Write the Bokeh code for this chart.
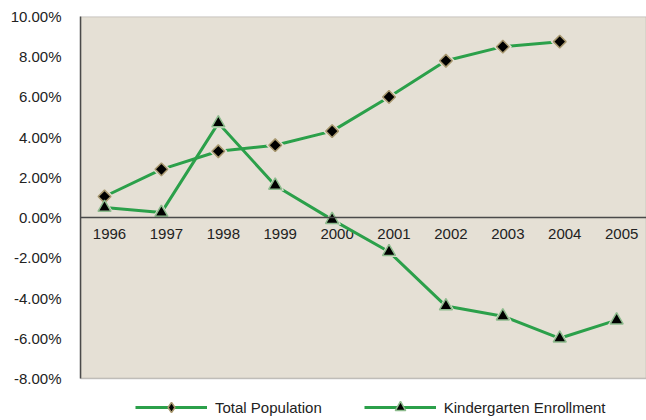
import math
from bokeh.plotting import figure
from bokeh.models import (Range1d, PrintfTickFormatter, FixedTicker, Legend,
                          LegendItem, ColumnDataSource, Span, BoxAnnotation)
from bokeh.core.properties import value
from bokeh.embed import file_html
from bokeh.resources import INLINE

years = [1996, 1997, 1998, 1999, 2000, 2001, 2002, 2003, 2004, 2005]
year_labels = [str(y) for y in years]
total_population = [1.05, 2.4, 3.3, 3.6, 4.3, 6.0, 7.8, 8.5, 8.75]
kindergarten = [0.5, 0.25, 4.7, 1.6, -0.1, -1.7, -4.4, -4.9, -6.0, -5.1]
y_ticks = [-8, -6, -4, -2, 0, 2, 4, 6, 8, 10]
Y_MIN, Y_MAX = -8, 10

BG = "#E5E0D5"
GREEN = "#2BA04A"
FRAME = "#4A4A4A"
TEXT = "#222222"
FONT = "Liberation Sans"
FS = "15px"

PLOT_H = 362      # pixel height of the shaded plot area
LEGEND_H = 42     # pixel room below it for the legend
y_low = Y_MIN - LEGEND_H * (Y_MAX - Y_MIN) / PLOT_H

tp_src = ColumnDataSource(dict(x=years[:len(total_population)], y=total_population))
kg_src = ColumnDataSource(dict(x=years, y=kindergarten))
lab_src = ColumnDataSource(dict(x=years, y=[0] * len(years), text=year_labels))

p = figure(frame_width=566, frame_height=PLOT_H + LEGEND_H, output_backend="svg",
           toolbar_location=None,
           x_range=Range1d(1995.578, 2005.525), y_range=Range1d(y_low, Y_MAX),
           min_border_left=80, min_border_right=0, min_border_top=16,
           min_border_bottom=0)
p.background_fill_color = "white"
p.border_fill_color = "white"
p.outline_line_color = None
p.xgrid.visible = False
p.ygrid.visible = False

# shaded plot area with border
p.add_layout(BoxAnnotation(bottom=Y_MIN, top=Y_MAX, fill_color=BG, fill_alpha=1,
                           line_color=FRAME, line_width=1.5, level="underlay"))

# y axis
p.yaxis.ticker = FixedTicker(ticks=y_ticks)
p.yaxis.bounds = (Y_MIN, Y_MAX)
p.yaxis.formatter = PrintfTickFormatter(format="%.2f%%")
p.yaxis.major_tick_line_color = None
p.yaxis.minor_tick_line_color = None
p.yaxis.axis_line_color = FRAME
p.yaxis.axis_line_width = 1.5
p.yaxis.major_label_text_font = FONT
p.yaxis.major_label_text_font_size = FS
p.yaxis.major_label_text_color = TEXT
p.yaxis.major_label_standoff = 13

# x axis drawn at zero: line + category labels
p.xaxis.visible = False
p.add_layout(Span(location=0, dimension="width", line_color=FRAME, line_width=1.5))
p.text("x", "y", text="text", source=lab_src, x_offset=5, y_offset=11,
       text_align="center", text_baseline="top",
       text_font=value(FONT), text_font_size=FS, text_color=TEXT)

# lines
tp_line = p.line("x", "y", source=tp_src, line_color=GREEN, line_width=3)
kg_line = p.line("x", "y", source=kg_src, line_color=GREEN, line_width=3)

# halos (gap in line around markers)
p.scatter("x", "y", source=tp_src, marker="square", angle=math.pi / 4, size=13,
          fill_color=BG, line_color=None)
p.scatter("x", "y", source=kg_src, marker="triangle", size=18,
          fill_color=BG, line_color=None)

tp_pts = p.scatter("x", "y", source=tp_src, marker="square", angle=math.pi / 4,
                   size=9, fill_color="black", line_color="#A8986F", line_width=1.5)
kg_pts = p.scatter("x", "y", source=kg_src, marker="triangle", size=13,
                   fill_color="black", line_color="#8DBB8D", line_width=1.5)

# hidden legend proxy (diamond shape) for the rotated-square marker
tp_proxy = p.scatter("x", "y", source=tp_src, marker="diamond", size=14,
                     fill_color="black", line_color="#A8986F", line_width=1.5,
                     visible=False)

legend = Legend(items=[
    LegendItem(label="Total Population", renderers=[tp_line, tp_proxy]),
    LegendItem(label="Kindergarten Enrollment", renderers=[kg_line, kg_pts]),
], orientation="horizontal", location=(55, 0))
legend.glyph_width = 72
legend.glyph_height = 26
legend.label_standoff = 8
legend.spacing = 42
legend.label_text_font = FONT
legend.label_text_font_size = FS
legend.label_text_color = TEXT
legend.background_fill_alpha = 0
legend.border_line_color = None
legend.padding = 0
legend.margin = 0
p.add_layout(legend)

open("out.html", "w").write(file_html(p, INLINE))
